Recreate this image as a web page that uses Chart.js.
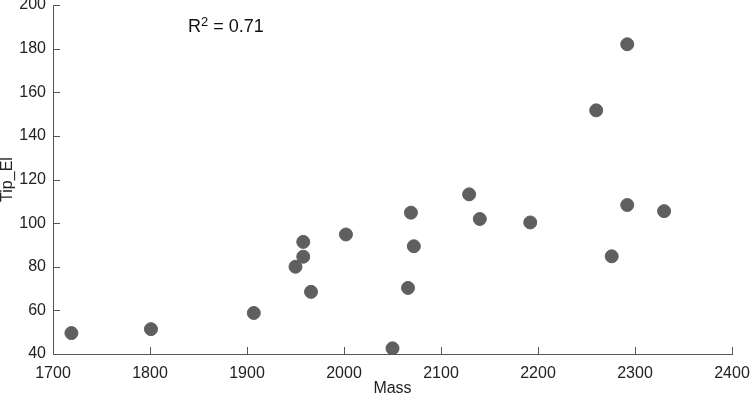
<!DOCTYPE html>
<html>
<head>
<meta charset="utf-8">
<script src="https://cdn.jsdelivr.net/npm/chart.js@4.4.1/dist/chart.umd.min.js"></script>
<style>
  html,body{margin:0;padding:0;background:#fff;}
  .wrap{width:750px;height:397px;position:relative;}
</style>
</head>
<body>
<div class="wrap"><canvas id="c"></canvas></div>
<script>
// ---------- datos ----------
const masa   = [1719, 1801, 1907, 1950, 1958, 1958, 1966, 2002, 2050, 2066, 2069, 2072, 2129, 2140, 2192, 2260, 2276, 2292, 2292, 2330];
const tipEl  = [49.6, 51.4, 58.8, 80.0, 84.6, 91.4, 68.5, 94.8, 42.6, 70.3, 104.8, 89.4, 113.2, 101.9, 100.3, 151.7, 84.8, 108.3, 182.0, 105.5];
const xTicks = [1700, 1800, 1900, 2000, 2100, 2200, 2300, 2400];
const yTicks = [40, 60, 80, 100, 120, 140, 160, 180, 200];
const R2     = '0.71';

const FONT = 'Liberation Sans, Arial, Helvetica, sans-serif';
const AXIS = '#555';

// ---------- marcas hacia dentro + texto R² ----------
const extras = {
  id:'extras',
  afterDraw(ch){
    const c = ch.ctx, a = ch.chartArea, x = ch.scales.x, y = ch.scales.y;
    c.save();
    c.strokeStyle = AXIS; c.lineWidth = 1;
    c.beginPath();
    xTicks.forEach(t=>{ const p = Math.round(x.getPixelForValue(t))+0.5; c.moveTo(p, a.bottom); c.lineTo(p, a.bottom-7); });
    yTicks.forEach(t=>{ const p = Math.round(y.getPixelForValue(t))+0.5; c.moveTo(a.left, p); c.lineTo(a.left+7, p); });
    c.stroke();
    // R^2
    c.fillStyle = '#111'; c.textBaseline = 'alphabetic';
    let px = 188, py = 32;
    c.font = '18px ' + FONT;
    c.fillText('R', px, py); px += c.measureText('R').width;
    c.font = '13px ' + FONT;
    c.fillText('2', px, py-6); px += c.measureText('2').width;
    c.font = '18px ' + FONT;
    c.fillText(' = ' + R2, px, py);
    c.restore();
  }
};

new Chart(document.getElementById('c'), {
  type:'scatter',
  data:{ datasets:[{
    data: masa.map((m,i)=>({x:m, y:tipEl[i]})),
    backgroundColor:'#5f5f5f', borderColor:'#5f5f5f', pointRadius:6.5, pointHoverRadius:6.5
  }]},
  options:{
    responsive:true, maintainAspectRatio:false, animation:false,
    layout:{padding:0, autoPadding:false},
    plugins:{legend:{display:false}, tooltip:{enabled:false}},
    scales:{
      x:{
        type:'linear', min:1700, max:2400,
        afterBuildTicks:s=>{ s.ticks = xTicks.map(v=>({value:v})); },
        afterFit:s=>{ s.height = 43; s.paddingRight = 18; s.paddingLeft = 0; },
        grid:{display:false, drawTicks:false},
        border:{display:true, color:AXIS, width:1},
        ticks:{color:'#222', padding:10, maxRotation:0, font:{family:FONT, size:16}, callback:v=>String(v)},
        title:{display:true, text:'Mass', color:'#222', padding:0, font:{family:FONT, size:16, lineHeight:1}}
      },
      y:{
        type:'linear', min:40, max:200,
        afterBuildTicks:s=>{ s.ticks = yTicks.map(v=>({value:v})); },
        afterFit:s=>{ s.width = 53; s.paddingTop = 5; s.paddingBottom = 0; },
        grid:{display:false, drawTicks:false},
        border:{display:true, color:AXIS, width:1},
        ticks:{color:'#222', padding:7, font:{family:FONT, size:16}, callback:v=>String(v)},
        title:{display:true, text:'Tip_El', color:'#222', padding:0, font:{family:FONT, size:16, lineHeight:1}}
      }
    }
  },
  plugins:[extras]
});
</script>
</body>
</html>
